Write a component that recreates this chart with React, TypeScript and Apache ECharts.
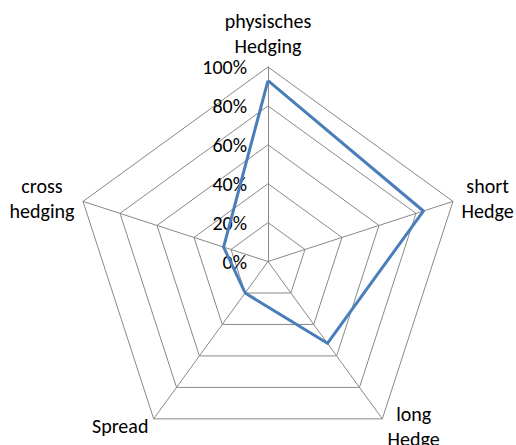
import React, { useEffect, useRef } from "react";
import * as echarts from "echarts";

// Order as drawn clockwise from the top
const indicators = ["physisches Hedging", "short Hedge", "long Hedge", "Spread", "cross hedging"];
const nameLines = [["physisches", "Hedging"], ["short", "Hedge"], ["long", "Hedge"], ["Spread"], ["cross", "hedging"]];
const values = [93, 84, 52, 20, 24];
const maxValue = 100;

const FONT = "Carlito, Lato, 'Liberation Sans', sans-serif";

// ECharts radar runs counter-clockwise: keep the first, reverse the rest
const order = [0, 4, 3, 2, 1];

export default function App() {
  const ref = useRef<HTMLDivElement>(null);
  useEffect(() => {
    if (!ref.current) return;
    const chart = echarts.init(ref.current, null, { renderer: "svg" });
    chart.setOption({
      animation: false,
      backgroundColor: "#ffffff",
      radar: {
        center: [268, 261.5],
        radius: 194.5,
        startAngle: 90,
        splitNumber: 5,
        shape: "polygon",
        nameGap: 9,
        axisName: {
          color: "#000",
          fontFamily: FONT,
          fontSize: 20,
          formatter: (name: string) => {
            const idx = indicators.indexOf(name);
            return nameLines[idx].map((l) => `{a|${l}}`).join("\n");
          },
          rich: {
            a: { align: "center", fontFamily: FONT, fontSize: 20, lineHeight: 25, color: "#000" },
          },
        },
        splitArea: { show: false },
        splitLine: { lineStyle: { color: "#898989", width: 1 } },
        axisLine: { lineStyle: { color: "#898989", width: 1 } },
        axisTick: { show: false },
        axisLabel: { show: false },
        indicator: order.map((k, i) => ({
          name: indicators[k],
          max: maxValue,
          min: 0,
          axisLabel:
            i === 0
              ? { show: true, formatter: "{value}%", color: "#000", fontFamily: FONT, fontSize: 20, margin: 21 }
              : { show: false },
        })),
      },
      series: [
        {
          type: "radar",
          symbol: "none",
          lineStyle: { color: "#4A7EBB", width: 3, join: "round" },
          data: [{ value: order.map((k) => values[k]), name: "Hedging" }],
        },
      ],
    });
    return () => chart.dispose();
  }, []);
  return <div ref={ref} style={{ position: "absolute", left: 0, top: 0, width: 516, height: 445 }} />;
}
